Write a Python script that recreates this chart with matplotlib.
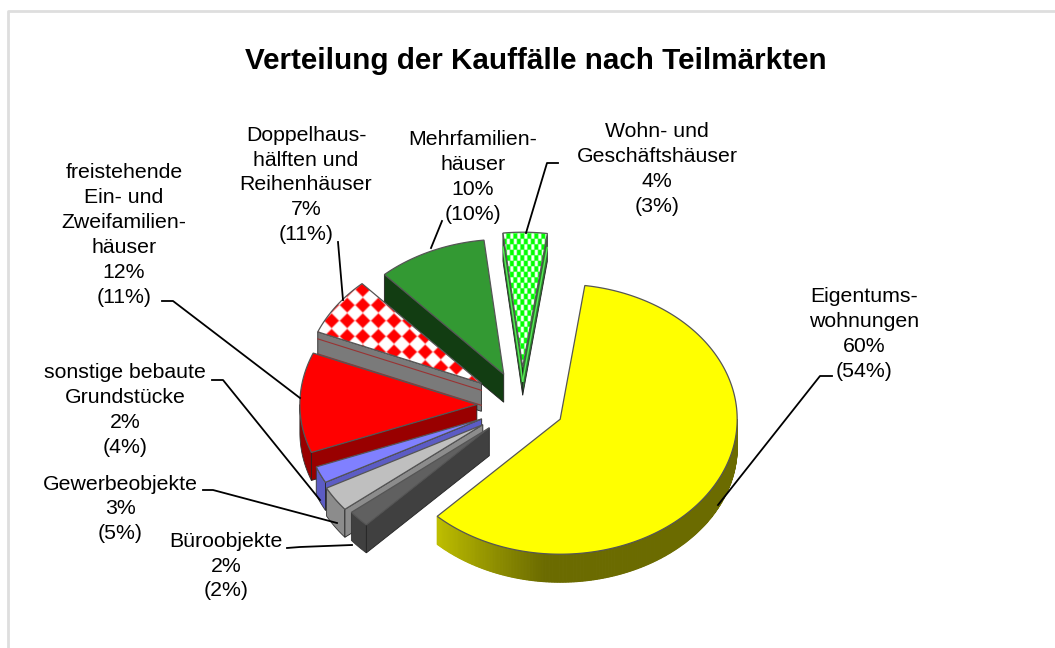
import numpy as np
import matplotlib
matplotlib.use("Agg")
import matplotlib.pyplot as plt
from matplotlib.colors import to_rgb
from matplotlib.patches import Polygon

plt.rcParams["font.family"] = ["Liberation Sans", "DejaVu Sans"]

# Data, clockwise from Eigentumswohnungen
names = ["Eigentums-\nwohnungen", "Büroobjekte", "Gewerbeobjekte", "sonstige bebaute\nGrundstücke",
         "freistehende\nEin- und\nZweifamilien-\nhäuser", "Doppelhaus-\nhälften und\nReihenhäuser",
         "Mehrfamilien-\nhäuser", "Wohn- und\nGeschäftshäuser"]
shares = [60, 2, 3, 2, 12, 7, 10, 4]
previous = [54, 2, 5, 4, 11, 11, 10, 3]
explode = [0.24, 0.25, 0.265, 0.25, 0.255, 0.28, 0.25, 0.28]

top_colors = ["#ffff00", "#606060", "#bfbfbf", "#8080ff", "#ff0000", "#ffffff", "#339933", "#ffffff"]
wall_colors = ["#6b6b00", "#404040", "#8c8c8c", "#5c5cc4", "#990000", "#7a7a7a", "#123d12", "#2f7a2f"]

# pie geometry in picture pixels
cx, cy = 522, 405
rx, ry = 177, 135
depth = 28
start_angle = 8


def point(ang, ox=0, oy=0):
    a = np.radians(ang)
    return ox + rx * np.sin(a), oy - ry * np.cos(a)


def pattern_image(ax, clip, alpha, base, fg, zo):
    img = np.ones(alpha.shape + (3,)) * np.array(to_rgb(base))
    img = img + (np.array(to_rgb(fg)) - img) * alpha[..., None]
    im = ax.imshow(img, extent=(250, 600, 450, 200), interpolation="bilinear", zorder=zo, aspect="auto")
    im.set_clip_path(clip)


xs, ys = np.meshgrid(np.arange(250, 600, 0.25), np.arange(200, 450, 0.25))


def diamonds(period, origin, half):
    dx = (xs - origin[0] + period / 2) % period - period / 2
    dy = (ys - origin[1] + period / 2) % period - period / 2
    return np.clip((half - (np.abs(dx) + np.abs(dy))) / 2.0 + 0.5, 0, 1)


def pills(px, py, origin, w, h):
    row = np.floor((ys - origin[1]) / (py / 2) + 0.5)
    yoff = (ys - origin[1]) - row * (py / 2)
    dx = (xs - origin[0] - (row % 2) * px / 2 + px / 2) % px - px / 2
    ax_w = np.clip((w / 2 - np.abs(dx)) + 0.5, 0, 1)
    ax_h = np.clip((h / 2 - np.abs(yoff)) + 0.5, 0, 1)
    return ax_w * ax_h


fig = plt.figure(figsize=(10.55, 6.48), dpi=100)
ax = fig.add_axes([0, 0, 1, 1])

edges = start_angle + np.cumsum([0] + shares) * 3.6

# draw back to front
order = [7, 6, 5, 4, 3, 2, 1, 0]
z = 2
for i in order:
    a0, a1 = edges[i], edges[i + 1]
    m = np.radians((a0 + a1) / 2)
    ox = cx + explode[i] * rx * np.sin(m)
    oy = cy - explode[i] * ry * np.cos(m)
    arc = np.linspace(a0, a1, max(int(a1 - a0) * 2, 8))
    arc_pts = [point(t, ox, oy) for t in arc]
    top_pts = [(ox, oy)] + arc_pts
    wall = wall_colors[i]

    # outer wall, only the part that faces the viewer
    low = max(a0, 90)
    high = min(a1, 270)
    if high > low:
        vis = np.linspace(low, high, max(int(high - low) * 2, 8))
        if i == 0:
            # yellow rim gets lighter towards the cut edge
            for t0, t1 in zip(vis[:-1], vis[1:]):
                f = np.clip((t0 - 185) / 38, 0, 1)
                col = (0.42 + 0.32 * f, 0.42 + 0.32 * f, 0)
                p0, p1 = point(t0, ox, oy), point(t1, ox, oy)
                ax.add_patch(Polygon([p0, p1, (p1[0], p1[1] + depth), (p0[0], p0[1] + depth)],
                                     fc=col, ec=col, lw=0.8, zorder=z))
        else:
            pts = [point(t, ox, oy) for t in vis]
            rim = pts + [(x, y + depth) for x, y in pts[::-1]]
            ax.add_patch(Polygon(rim, fc=wall, ec="#333333", lw=0.6, zorder=z))

    # cut faces
    sides = []
    if np.sin(np.radians(a0)) < 0:
        sides.append(a0)
    if np.sin(np.radians(a1)) > 0 and i != 0:
        sides.append(a1)
    for t in sides:
        p = point(t, ox, oy)
        face = [(ox, oy), p, (p[0], p[1] + depth), (ox, oy + depth)]
        ax.add_patch(Polygon(face, fc=wall, ec="#222222", lw=0.6, zorder=z + 0.1))
        if i == 5:
            ax.plot([ox, p[0]], [oy + 7, p[1] + 7], color="#993333", lw=0.8, zorder=z + 0.2)
            ax.plot([ox, p[0]], [oy + 22, p[1] + 22], color="#993333", lw=0.8, zorder=z + 0.2)
        if i == 7:
            ax.plot([ox, p[0]], [oy + 14, p[1] + 14], color="#55ee55", lw=1.0, zorder=z + 0.2)

    # top
    top = Polygon(top_pts, fc=top_colors[i], ec="none", zorder=z + 0.3)
    ax.add_patch(top)
    if i == 5:
        pattern_image(ax, top, diamonds(15.6, (362.7, 305), 7.4), "#ffffff", "#ff0000", z + 0.4)
    if i == 7:
        pattern_image(ax, top, pills(7.0, 11.0, (511.7, 247), 3.0, 7.0), "#00ff00", "#ffffff", z + 0.4)
    ax.add_patch(Polygon(top_pts, fc="none", ec="#555555", lw=0.9, zorder=z + 0.5))
    z += 1

# frame, only top and left are inside the picture
ax.plot([7.5, 7.5, 1055], [648, 10.5, 10.5], color="#dedede", lw=2, zorder=1)

ax.text(536, 61, "Verteilung der Kauffälle nach Teilmärkten", ha="center", va="center",
        fontsize=21.3, fontweight="bold", color="black", zorder=20)

# label centres
label_pos = [(864, 334), (226, 566), (120, 509), (125, 410), (124, 235), (306, 185), (473, 177), (657, 169)]
for name, s, p, pos in zip(names, shares, previous, label_pos):
    ax.text(pos[0], pos[1], f"{name}\n{s}%\n({p}%)", ha="center", va="center", fontsize=15.3,
            linespacing=1.39, color="black", zorder=20)

# leader lines
leaders = [
    [(718, 505), (820, 376), (832, 376)],
    [(352, 545), (300, 547), (287, 548)],
    [(337, 523), (213, 490), (203, 490)],
    [(320, 500), (223, 380), (212, 380)],
    [(300, 398), (173, 301), (162, 301)],
    [(343, 300), (338, 242)],
    [(431, 248), (442, 221)],
    [(526, 233), (547, 163), (558, 163)],
]
for pts in leaders:
    ax.plot([q[0] for q in pts], [q[1] for q in pts], color="black", lw=1.3, zorder=15)

ax.set_xlim(0, 1055)
ax.set_ylim(648, 0)
ax.axis("off")
fig.savefig("out.png", dpi=100)
